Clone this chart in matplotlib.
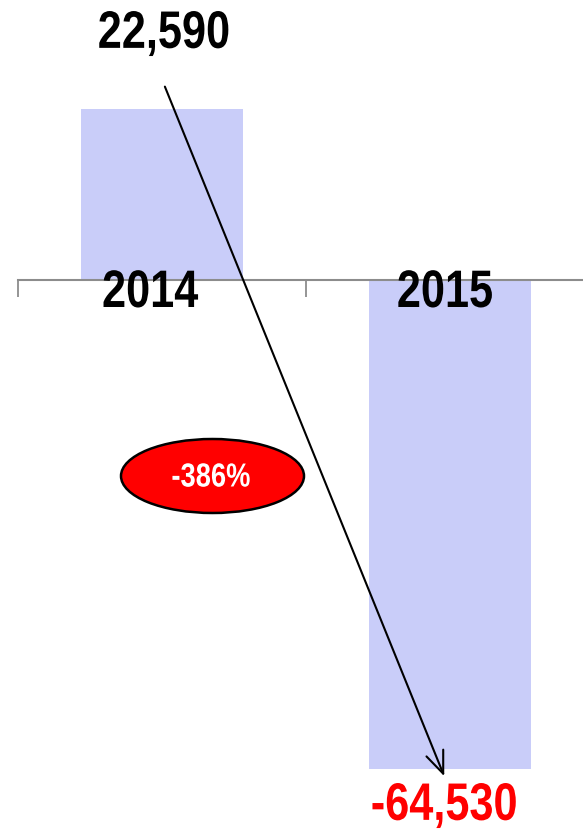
import matplotlib
matplotlib.use("Agg")
import matplotlib.pyplot as plt
from matplotlib.patches import Ellipse
from matplotlib.patheffects import AbstractPathEffect
from matplotlib.transforms import Affine2D

years = ["2014", "2015"]
values = [22590, -64530]
value_labels = ["22,590", "-64,530"]
label_colors = ["black", "#FF0000"]
change_label = "-386%"

FONT = ["Liberation Sans", "DejaVu Sans"]
BAR_COLOR = "#C9CDF9"
AXIS_GRAY = "#8C8C8C"


class Narrow(AbstractPathEffect):
    """Draw text horizontally condensed about its own centre (Arial Narrow look)."""

    def __init__(self, sx=0.82):
        super().__init__()
        self.sx = sx

    def draw_path(self, renderer, gc, tpath, affine, rgbFace=None):
        ext = tpath.get_extents(affine)
        cx = (ext.x0 + ext.x1) / 2
        aff = affine + Affine2D().translate(-cx, 0).scale(self.sx, 1).translate(cx, 0)
        renderer.draw_path(gc, tpath, aff, rgbFace)


NARROW = [Narrow(0.82)]

W, H, DPI = 583, 831, 100
fig = plt.figure(figsize=(W / DPI, H / DPI), dpi=DPI)
fig.patch.set_facecolor("white")

ax = fig.add_axes([18 / W, 0, 576 / W, 1])
ax.set_facecolor("none")
x = list(range(len(years)))
ax.bar(x, values, width=0.56, color=BAR_COLOR, zorder=1)

units_per_px = 132.0
zero_px_from_top = 280
ax.set_ylim(-(H - zero_px_from_top) * units_per_px, zero_px_from_top * units_per_px)
ax.set_xlim(-0.5, 1.5)

for s in ["top", "right", "left"]:
    ax.spines[s].set_visible(False)
ax.spines["bottom"].set_position(("data", 0))
ax.spines["bottom"].set_color(AXIS_GRAY)
ax.spines["bottom"].set_linewidth(1.5)
ax.spines["bottom"].set_zorder(2)
ax.set_yticks([])
ax.set_xticks([-0.5, 0.5, 1.5])
ax.set_xticklabels([])
ax.tick_params(axis="x", direction="out", length=12, width=1.3, color=AXIS_GRAY)

txt = dict(fontweight="bold", family=FONT, path_effects=NARROW)

for xi, yr in zip(x, years):
    ax.annotate(yr, xy=(xi, 0), xytext=(-12 if xi == 0 else -5, -13),
                textcoords="offset pixels", ha="center", va="center",
                fontsize=38, color="black", zorder=4, **txt)

ax.annotate(value_labels[0], xy=(x[0], values[0]), xytext=(2, 75),
            textcoords="offset pixels", ha="center", va="center",
            fontsize=38, color=label_colors[0], **txt)
ax.annotate(value_labels[1], xy=(x[1], values[1]), xytext=(-6, -37),
            textcoords="offset pixels", ha="center", va="center",
            fontsize=38, color=label_colors[1], **txt)

ax.annotate("", xy=(x[1] - 0.02, values[1] * 1.015), xytext=(x[0] + 0.01, values[0] * 1.13),
            arrowprops=dict(arrowstyle="->,head_length=1.6,head_width=0.65",
                            color="black", lw=1.5, shrinkA=0, shrinkB=0),
            zorder=5)

ell = Ellipse((212.5 / W, 1 - 476 / H), 183 / W, 74 / H, transform=fig.transFigure,
              facecolor="#FF0000", edgecolor="black", linewidth=1.8, zorder=6)
fig.add_artist(ell)
fig.text(211 / W, 1 - 478 / H, change_label, ha="center", va="center",
         fontsize=24, color="white", zorder=7, **txt)

fig.savefig("out.png", dpi=DPI)
